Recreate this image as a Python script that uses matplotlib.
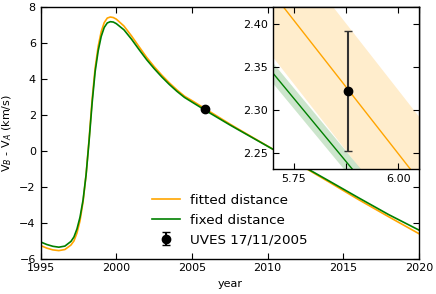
import matplotlib
matplotlib.use('Agg')
import matplotlib.pyplot as plt
import numpy as np

plt.rcParams['font.family'] = ['DejaVu Sans']
plt.rcParams['font.size'] = 8
plt.rcParams['xtick.direction'] = 'in'
plt.rcParams['ytick.direction'] = 'in'
plt.rcParams['xtick.top'] = True
plt.rcParams['ytick.right'] = True
plt.rcParams['xtick.major.size'] = 4
plt.rcParams['ytick.major.size'] = 4
plt.rcParams['axes.linewidth'] = 1.0

# courbes principales
years = [1995.0, 1995.4, 1995.8, 1996.2, 1996.6, 1997.0, 1997.2, 1997.4, 1997.6, 1997.8,
         1998.0, 1998.2, 1998.4, 1998.6, 1998.8, 1999.0, 1999.2, 1999.4, 1999.6, 1999.8,
         2000.0, 2000.5, 2001.0, 2001.5, 2002.0, 2002.5, 2003.0, 2003.5, 2004.0, 2004.5,
         2005.0, 2005.5, 2006.0, 2006.5, 2007.0, 2007.5, 2008.0, 2010.0, 2012.0, 2014.0,
         2016.0, 2018.0, 2020.0]
v_fixed = [-5.08, -5.22, -5.32, -5.37, -5.31, -5.05, -4.80, -4.35, -3.70, -2.75,
           -1.35, 0.55, 2.65, 4.40, 5.55, 6.35, 6.85, 7.10, 7.17, 7.15,
           7.06, 6.72, 6.20, 5.62, 5.06, 4.56, 4.10, 3.68, 3.30, 2.96,
           2.70, 2.44, 2.18, 1.93, 1.68, 1.43, 1.19, 0.24, -0.71, -1.66,
           -2.62, -3.56, -4.42]
v_fitted = [-5.28, -5.42, -5.52, -5.56, -5.50, -5.25, -5.02, -4.58, -3.90, -2.85,
            -1.35, 0.65, 2.85, 4.60, 5.80, 6.62, 7.12, 7.37, 7.43, 7.40,
            7.31, 6.93, 6.38, 5.78, 5.19, 4.67, 4.20, 3.77, 3.38, 3.03,
            2.78, 2.52, 2.26, 2.00, 1.74, 1.48, 1.23, 0.25, -0.73, -1.72,
            -2.72, -3.68, -4.62]

# zoom (annee - 2000)
inset_t = [5.70, 6.05]
inset_fitted = [2.4356, 2.218]
inset_fixed = [2.343, 2.137]
err_fitted = 0.074
err_fixed = 0.012

# mesure UVES
uves_year = 2005.88
uves_v = 2.322
uves_err = 0.07

fig = plt.figure(figsize=(4.36, 2.94), dpi=100)
ax = fig.add_axes([0.0933, 0.1207, 0.8677, 0.8563])

ax.plot(years, v_fitted, color='orange', lw=1.2, label='fitted distance')
ax.plot(years, v_fixed, color='green', lw=1.2, label='fixed distance')
ax.errorbar(uves_year, uves_v, yerr=uves_err, fmt='o', color='k', ms=6,
            capsize=3, label='UVES 17/11/2005')
ax.set_xlim(1995, 2020)
ax.set_ylim(-6, 8)
ax.set_xticks([1995, 2000, 2005, 2010, 2015, 2020])
ax.set_yticks([-6, -4, -2, 0, 2, 4, 6, 8])
ax.set_xlabel('year')
ax.set_ylabel('V$_B$ - V$_A$ (km/s)')
ax.legend(loc='lower center', frameon=False, fontsize=9.7, handlelength=2.1,
          handletextpad=0.75, labelspacing=0.5)

# encart
axi = fig.add_axes([0.6255, 0.4241, 0.3356, 0.553])
t = np.array(inset_t)
f1 = np.array(inset_fitted)
f2 = np.array(inset_fixed)
axi.fill_between(t, f1 - err_fitted, f1 + err_fitted, color='orange', alpha=0.2, lw=0)
axi.fill_between(t, f2 - err_fixed, f2 + err_fixed, color='green', alpha=0.2, lw=0)
axi.plot(t, f1, color='orange', lw=1.0)
axi.plot(t, f2, color='green', lw=1.0)
axi.errorbar(uves_year - 2000, uves_v, yerr=uves_err, fmt='o', color='k', ms=6,
             capsize=3, ecolor='#333333')
axi.set_xlim(5.70, 6.05)
axi.set_ylim(2.2307, 2.42)
axi.set_xticks([5.75, 5.875, 6.0])
axi.set_xticklabels(['5.75', '', '6.00'])
axi.set_yticks([2.25, 2.30, 2.35, 2.40])
axi.set_yticklabels(['2.25', '2.30', '2.35', '2.40'])

fig.savefig('out.png', dpi=100)
